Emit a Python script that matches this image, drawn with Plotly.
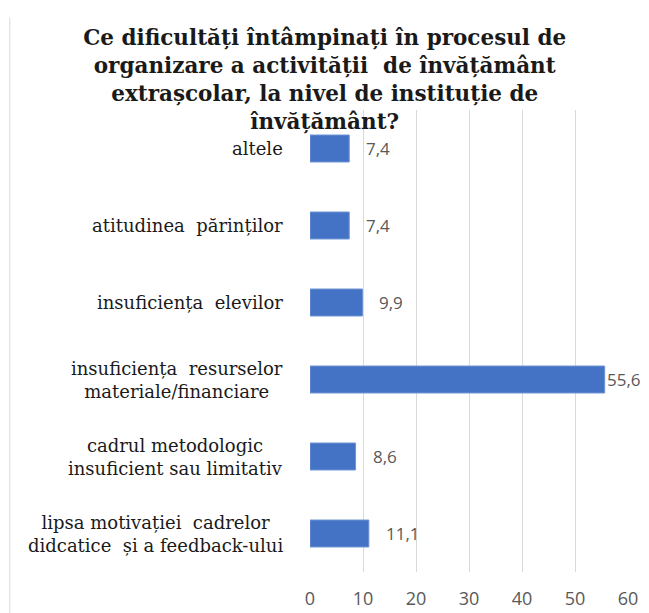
import plotly.graph_objects as go

categories = [
    "lipsa motivației  cadrelor<br>didcatice  și a feedback-ului",
    "cadrul metodologic<br>insuficient sau limitativ",
    "insuficiența  resurselor<br>materiale/financiare",
    "insuficiența  elevilor",
    "atitudinea  părinților",
    "altele",
]
values = [11.1, 8.6, 55.6, 9.9, 7.4, 7.4]
x_ticks = [0, 10, 20, 30, 40, 50, 60]

title = ("Ce dificultăți întâmpinați în procesul de<br>"
         "organizare a activității  de învățământ<br>"
         "extrașcolar, la nivel de instituție de<br>"
         "învățământ?")

serif = "DejaVu Serif"
sans = "Open Sans"

fig = go.Figure(
    go.Bar(
        x=values,
        y=categories,
        orientation="h",
        width=0.35,
        marker=dict(color="#4472C4", line=dict(color="#6e93d6", width=1)),
        hoverinfo="skip",
    )
)

# category labels, centred lines like the original
for cat in categories:
    fig.add_annotation(
        x=-0.08, xref="paper", y=cat, yref="y",
        text=cat, showarrow=False, xanchor="right", align="center",
        font=dict(family=serif, size=18, color="#1a1a1a"),
    )

# value labels outside the bar end; the long bar's label sits tight like in Excel
for cat, v in zip(categories, values):
    fig.add_annotation(
        x=v, y=cat, xref="x", yref="y",
        text=f"{v:.1f}".replace(".", ","), showarrow=False, xanchor="left",
        xshift=15 if v < 50 else 0,
        font=dict(family=sans, size=17, color="#595959"),
    )

fig.update_layout(
    width=649,
    height=613,
    title=dict(
        text=f"<b>{title}</b>",
        x=0.488, xanchor="center", y=0.94, yanchor="top",
        font=dict(family=serif, size=21.5, color="#1a1a1a"),
    ),
    margin=dict(l=302, r=29, t=102, b=49, autoexpand=False),
    plot_bgcolor="white",
    paper_bgcolor="white",
    showlegend=False,
    shapes=[dict(type="line", xref="paper", yref="paper",
                 x0=-0.944, x1=-0.944, y0=-0.1, y1=1.2,
                 line=dict(color="#d9d9d9", width=1))],
)
fig.update_xaxes(
    range=[0, 60],
    tickvals=x_ticks,
    showgrid=True,
    gridcolor="#d9d9d9",
    zeroline=False,
    automargin=False,
    tickfont=dict(family=sans, size=18, color="#595959"),
    ticklabelstandoff=14,
)
fig.update_yaxes(showticklabels=False, showgrid=False, automargin=False)

fig.write_html("out.html")
